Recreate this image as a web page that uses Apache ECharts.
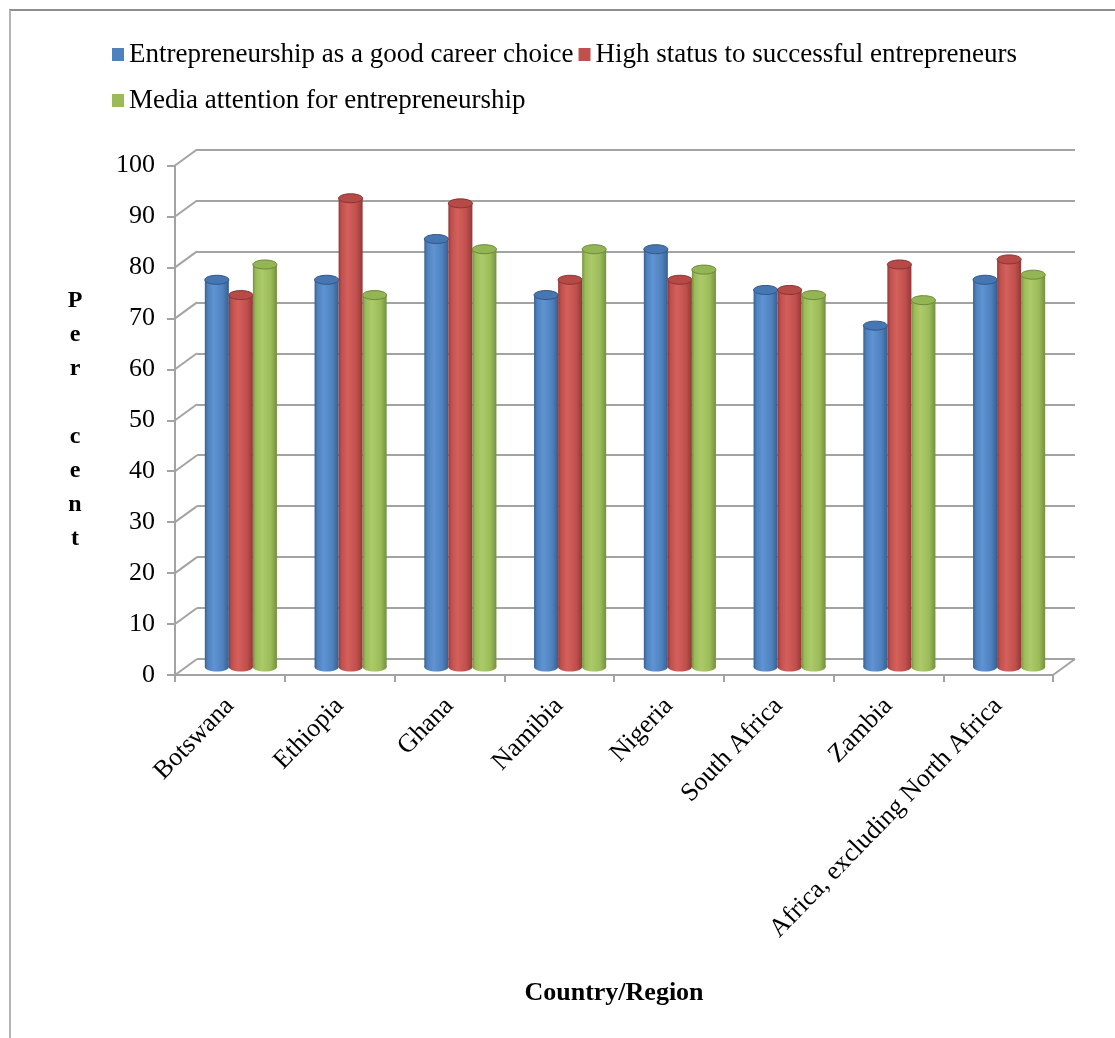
<!DOCTYPE html>
<html>
<head>
<meta charset="utf-8">
<script src="https://cdn.jsdelivr.net/npm/echarts@6/dist/echarts.min.js"></script>
<style>
  html, body { margin: 0; padding: 0; background: #fff; overflow: hidden; }
  #chart { position: absolute; left: 0; top: 0; width: 1115px; height: 1038px; }
  #frame { position: absolute; left: 9px; top: 9px; width: 1200px; height: 1100px;
           border-top: 2px solid #8e8e8e; border-left: 2px solid #b4b4b4; pointer-events: none; }
</style>
</head>
<body>
<div id="chart"></div>
<div id="frame"></div>
<script>
// Categories and series values (percent)
const categories = ['Botswana', 'Ethiopia', 'Ghana', 'Namibia', 'Nigeria', 'South Africa', 'Zambia', 'Africa, excluding North Africa'];
const seriesNames = ['Entrepreneurship as a good career choice', 'High status to successful entrepreneurs', 'Media attention for entrepreneurship'];
const goodCareer = [76, 76, 84, 73, 82, 74, 67, 76];
const highStatus = [73, 92, 91, 76, 76, 74, 79, 80];
const mediaAttention = [79, 73, 82, 82, 78, 73, 72, 77];
const yTicks = [0, 10, 20, 30, 40, 50, 60, 70, 80, 90, 100];

const FONT = "'Liberation Serif', 'Times New Roman', serif";
const GRID_GREY = '#a3a3a3';
// depth of the pseudo-3D box (back wall offset from the front plane)
const DX = 22, DY = -16;

// colour sets for each cylinder: [left edge, highlight, body, right edge, top, top rim]
const palettes = [
  ['#36608f', '#5f93d3', '#4f81bd', '#375f90', '#4777b3', '#30568a'],
  ['#94393a', '#d4605c', '#c0504d', '#923837', '#b54a47', '#8a3432'],
  ['#769140', '#acca69', '#9bbb59', '#73903f', '#93b553', '#6d883a']
];
const allValues = [goodCareer, highStatus, mediaAttention];

const front = { left: 175, top: 165.5, width: 878, height: 509.5 };
const back = { left: front.left + DX, top: front.top + DY, width: front.width, height: front.height };
const mid = { left: front.left + DX / 2, top: front.top + DY / 2, width: front.width, height: front.height };

function cylinderRenderer(sIdx) {
  const p = palettes[sIdx];
  return function (params, api) {
    const i = api.value(0), v = api.value(1);
    const base = api.coord([i, 0]);
    const top = api.coord([i, v]);
    const band = api.size([1, 0])[0];
    const w = band * 0.219;
    const cx = base[0] + (sIdx - 1) * w;
    const ry = 4.5;
    const grad = new echarts.graphic.LinearGradient(0, 0, 1, 0, [
      { offset: 0, color: p[0] },
      { offset: 0.12, color: p[2] },
      { offset: 0.38, color: p[1] },
      { offset: 0.75, color: p[2] },
      { offset: 1, color: p[3] }
    ]);
    return {
      type: 'group',
      children: [
        { type: 'ellipse', shape: { cx: cx, cy: base[1], rx: w / 2, ry: ry }, style: { fill: grad } },
        { type: 'rect', shape: { x: cx - w / 2, y: top[1], width: w, height: base[1] - top[1] }, style: { fill: grad } },
        { type: 'ellipse', shape: { cx: cx, cy: top[1], rx: w / 2, ry: ry },
          style: { fill: p[4], stroke: p[5], lineWidth: 1 } }
      ]
    };
  };
}

// side-wall diagonals joining front ticks to back gridlines, plus the floor's right edge
function wallRenderer(params, api) {
  const v = api.value(1);
  const cs = params.coordSys;
  const y = api.coord([0, v])[1];
  const children = [{
    type: 'line',
    shape: { x1: cs.x, y1: y, x2: cs.x + DX, y2: y + DY },
    style: { stroke: GRID_GREY, lineWidth: 2 }
  }];
  if (v === 0) {
    children.push({
      type: 'line',
      shape: { x1: cs.x + cs.width, y1: y, x2: cs.x + cs.width + DX, y2: y + DY },
      style: { stroke: GRID_GREY, lineWidth: 2 }
    });
  }
  return { type: 'group', children: children };
}

const chart = echarts.init(document.getElementById('chart'), null, { renderer: 'canvas' });

const legendText = { fontFamily: FONT, fontSize: 27, color: '#000' };

chart.setOption({
  animation: false,
  backgroundColor: '#fff',
  legend: [
    { data: [seriesNames[0], seriesNames[1]], left: 107, top: 36, icon: 'rect',
      itemWidth: 12, itemHeight: 13, itemGap: 5, textStyle: legendText, selectedMode: false },
    { data: [seriesNames[2]], left: 107, top: 82, icon: 'rect',
      itemWidth: 12, itemHeight: 13, itemGap: 5, textStyle: legendText, selectedMode: false }
  ],
  grid: [
    Object.assign({ outerBoundsMode: 'none' }, front),
    Object.assign({ outerBoundsMode: 'none' }, back),
    Object.assign({ outerBoundsMode: 'none' }, mid)
  ],
  xAxis: [
    {
      gridIndex: 0, type: 'category', data: categories,
      axisLine: { show: true, lineStyle: { color: GRID_GREY, width: 2 } },
      axisTick: { show: true, length: 7, lineStyle: { color: GRID_GREY, width: 2 } },
      axisLabel: { rotate: 46, margin: 27, interval: 0, fontFamily: FONT, fontSize: 26, color: '#000' },
      splitLine: { show: false },
      name: 'Country/Region', nameLocation: 'middle', nameGap: 305,
      nameTextStyle: { fontFamily: FONT, fontSize: 26, fontWeight: 'bold', color: '#000' }
    },
    { gridIndex: 1, type: 'category', data: categories,
      axisLine: { show: false }, axisTick: { show: false }, axisLabel: { show: false }, splitLine: { show: false } },
    { gridIndex: 2, type: 'category', data: categories, show: false }
  ],
  yAxis: [
    {
      gridIndex: 0, type: 'value', min: 0, max: 100, interval: 10,
      axisLine: { show: true, lineStyle: { color: GRID_GREY, width: 2 } },
      axisTick: { show: true, length: 8, lineStyle: { color: GRID_GREY, width: 2 } },
      axisLabel: { margin: 20, fontFamily: FONT, fontSize: 26, color: '#000' },
      splitLine: { show: false },
      name: 'P\ne\nr\n\nc\ne\nn\nt', nameLocation: 'middle', nameGap: 100, nameRotate: 0,
      nameTextStyle: { fontFamily: FONT, fontSize: 24, fontWeight: 'bold', color: '#000',
                       lineHeight: 34, align: 'center', verticalAlign: 'middle' }
    },
    {
      gridIndex: 1, type: 'value', min: 0, max: 100, interval: 10,
      axisLine: { show: false }, axisTick: { show: false }, axisLabel: { show: false },
      splitLine: { show: true, lineStyle: { color: GRID_GREY, width: 2 } }
    },
    { gridIndex: 2, type: 'value', min: 0, max: 100, interval: 10, show: false }
  ],
  series: [
    {
      name: 'walls', type: 'custom', xAxisIndex: 0, yAxisIndex: 0, silent: true,
      renderItem: wallRenderer, data: yTicks.map(function (t) { return [0, t]; }),
      encode: { x: 0, y: 1 }, z: 1
    }
  ].concat(allValues.map(function (vals, s) {
    return {
      name: seriesNames[s], type: 'custom', xAxisIndex: 2, yAxisIndex: 2,
      itemStyle: { color: palettes[s][2] },
      renderItem: cylinderRenderer(s),
      encode: { x: 0, y: 1 },
      data: vals.map(function (v, i) { return [i, v]; }),
      z: 3
    };
  }))
});
</script>
</body>
</html>
